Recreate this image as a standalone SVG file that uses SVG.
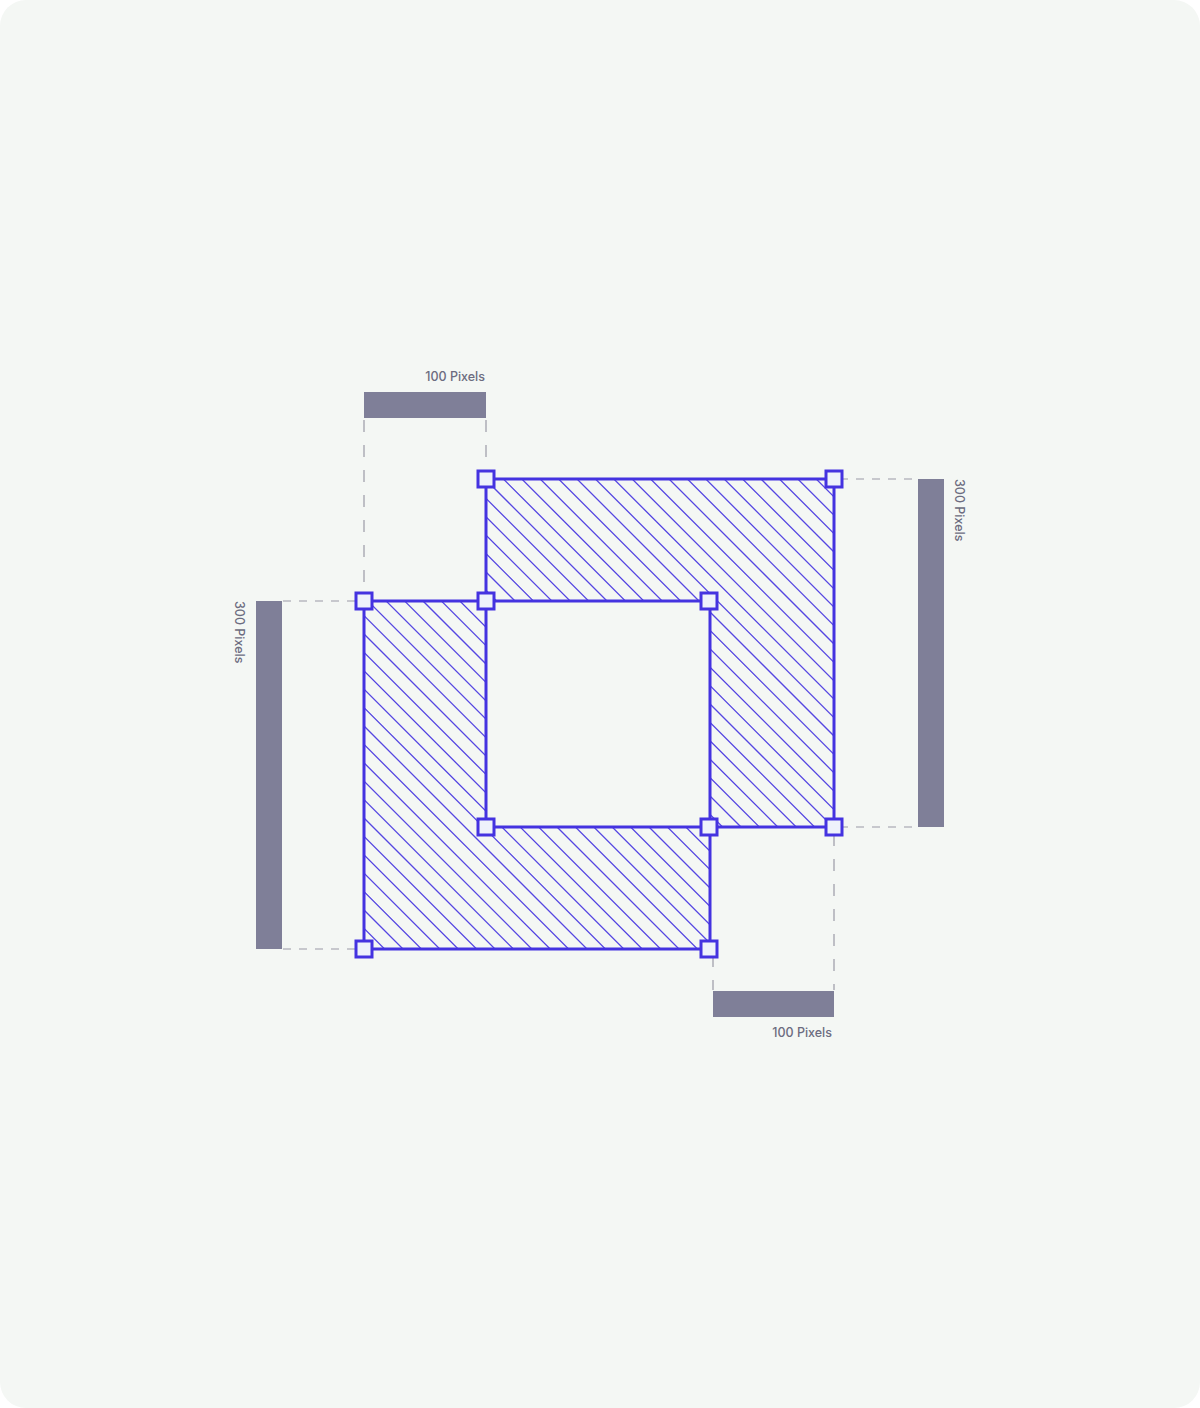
<svg xmlns="http://www.w3.org/2000/svg" width="1200" height="1408" viewBox="0 0 1200 1408">
<defs>
<clipPath id="ring">
<path d="M486 479H834V827H486Z M364 601H710V949H364Z" clip-rule="evenodd"/>
</clipPath>
<style>
.bar{fill:#7f7f98}
.dash{stroke:#9a9aa6;stroke-width:1.2;fill:none}
.dh{stroke-dasharray:8 8}
.dv{stroke-dasharray:12 13}
.hatch{fill:none;stroke:#5546e2;stroke-width:1.3}
.outline{fill:none;stroke:#4433e0;stroke-width:3}
.handle{fill:#eef2fb;stroke:#4433e0;stroke-width:3}
.lbl{font-family:Inter,"Liberation Sans",sans-serif;font-size:12.5px;font-weight:500;fill:#6c6c80}
</style>
</defs>
<rect x="0" y="0" width="1200" height="1408" fill="#ffffff"/>
<rect x="0" y="0" width="1200" height="1408" rx="26" fill="#f4f7f4"/>

<g id="connectors">
<line class="dash dv" x1="364" y1="420" x2="364" y2="598"/>
<line class="dash dv" x1="486" y1="420" x2="486" y2="476"/>
<line class="dash dh" x1="283" y1="601" x2="360" y2="601"/>
<line class="dash dh" x1="283" y1="949" x2="360" y2="949"/>
<line class="dash dh" x1="840" y1="479" x2="917" y2="479"/>
<line class="dash dh" x1="840" y1="827" x2="917" y2="827"/>
<line class="dash dv" x1="834" y1="834" x2="834" y2="990"/>
<line class="dash dv" x1="713" y1="955" x2="713" y2="990"/>
</g>

<g id="dim-top">
<rect class="bar" x="364" y="392" width="122" height="26"/>
<text class="lbl" x="485" y="381" text-anchor="end">100 Pixels</text>
</g>
<g id="dim-left">
<rect class="bar" x="256" y="601" width="26" height="348"/>
<text class="lbl" transform="translate(235,601) rotate(90)">300 Pixels</text>
</g>
<g id="dim-right">
<rect class="bar" x="918" y="479" width="26" height="348"/>
<text class="lbl" transform="translate(955,479) rotate(90)">300 Pixels</text>
</g>
<g id="dim-bottom">
<rect class="bar" x="713" y="991" width="121" height="26"/>
<text class="lbl" x="832" y="1037" text-anchor="end">100 Pixels</text>
</g>

<g id="shape">
<g clip-path="url(#ring)">
<path class="hatch" d="M-112.8 470l490 490M-94.4 470l490 490M-76 470l490 490M-57.6 470l490 490M-39.2 470l490 490M-20.8 470l490 490M-2.4 470l490 490M16 470l490 490M34.4 470l490 490M52.8 470l490 490M71.2 470l490 490M89.6 470l490 490M108 470l490 490M126.4 470l490 490M144.8 470l490 490M163.2 470l490 490M181.6 470l490 490M200 470l490 490M218.4 470l490 490M236.8 470l490 490M255.2 470l490 490M273.6 470l490 490M292 470l490 490M310.4 470l490 490M328.8 470l490 490M347.2 470l490 490M365.6 470l490 490M384 470l490 490M402.4 470l490 490M420.8 470l490 490M439.2 470l490 490M457.6 470l490 490M476 470l490 490M494.4 470l490 490M512.8 470l490 490M531.2 470l490 490M549.6 470l490 490M568 470l490 490M586.4 470l490 490M604.8 470l490 490M623.2 470l490 490M641.6 470l490 490M660 470l490 490M678.4 470l490 490M696.8 470l490 490M715.2 470l490 490M733.6 470l490 490M752 470l490 490M770.4 470l490 490M788.8 470l490 490M807.2 470l490 490M825.6 470l490 490"/>
</g>
<rect class="outline" x="486" y="479" width="348" height="348"/>
<rect class="outline" x="364" y="601" width="346" height="348"/>
</g>

<g id="handles">
<rect class="handle" x="478" y="471" width="16" height="16"/>
<rect class="handle" x="826" y="471" width="16" height="16"/>
<rect class="handle" x="356" y="593" width="16" height="16"/>
<rect class="handle" x="478" y="593" width="16" height="16"/>
<rect class="handle" x="701" y="593" width="16" height="16"/>
<rect class="handle" x="478" y="819" width="16" height="16"/>
<rect class="handle" x="701" y="819" width="16" height="16"/>
<rect class="handle" x="826" y="819" width="16" height="16"/>
<rect class="handle" x="356" y="941" width="16" height="16"/>
<rect class="handle" x="701" y="941" width="16" height="16"/>
</g>
</svg>
